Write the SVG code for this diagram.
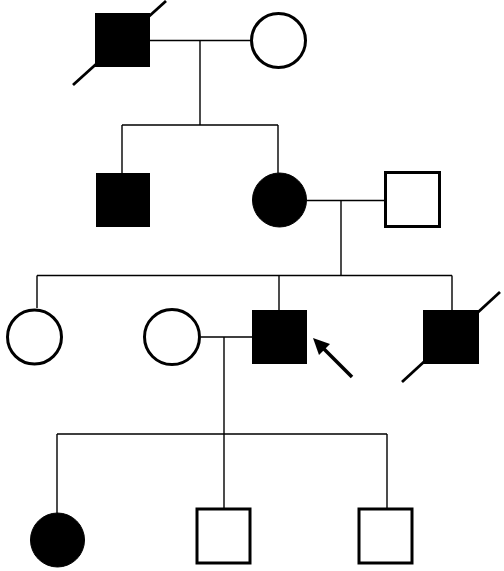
<svg xmlns="http://www.w3.org/2000/svg" width="504" height="571" viewBox="0 0 504 571">
<style>
.c{stroke:#000;stroke-width:1.4;fill:none}
.open{fill:#fff;stroke:#000;stroke-width:3}
.aff{fill:#000;stroke:#000;stroke-width:1}
.dec{stroke:#000;stroke-width:2.8;fill:none}
</style>
<defs>
<marker id="ah" markerWidth="10" markerHeight="10" refX="9" refY="5" orient="auto" markerUnits="userSpaceOnUse" viewBox="0 0 10 10">
<path d="M0,0 L10,5 L0,10 z" fill="#000"/>
</marker>
</defs>
<rect width="504" height="571" fill="#fff"/>
<g id="connectors">
<path class="c" d="M150,40.5 H250 M200,40.5 V125 M122,125 H278 M122,125 V173 M278,125 V173"/>
<path class="c" d="M307,200.5 H384 M341,200.5 V275.5 M37,275.5 H452 M37,275.5 V308 M279,275.5 V310 M452,275.5 V310"/>
<path class="c" d="M201,337 H252 M224,337 V434 M57,434 H387 M57,434 V513 M224,434 V508 M387,434 V508"/>
</g>
<g id="I1"><rect class="aff" x="95.5" y="13.5" width="54" height="53"/><line class="dec" x1="73" y1="85" x2="166" y2="1"/></g>
<g id="I2"><circle class="open" cx="278.5" cy="40.5" r="27"/></g>
<g id="II1"><rect class="aff" x="96.5" y="173.5" width="53" height="53"/></g>
<g id="II2"><circle class="aff" cx="279.5" cy="200" r="27"/></g>
<g id="II3"><rect class="open" x="385.5" y="172.5" width="54" height="54"/></g>
<g id="III1"><circle class="open" cx="34.5" cy="337" r="27"/></g>
<g id="III2"><circle class="open" cx="172" cy="337" r="27.5"/></g>
<g id="III3"><rect class="aff" x="252.5" y="310.5" width="54" height="53"/></g>
<g id="proband"><line x1="352" y1="377" x2="318" y2="343" stroke="#000" stroke-width="3.5"/><path d="M313,338 L330,344 L319,355 z" fill="#000"/></g>
<g id="III4"><rect class="aff" x="423.5" y="310.5" width="55" height="53"/><line class="dec" x1="402" y1="382" x2="500" y2="292"/></g>
<g id="IV1"><circle class="aff" cx="57.5" cy="540" r="27"/></g>
<g id="IV2"><rect class="open" x="197" y="509" width="53" height="54"/></g>
<g id="IV3"><rect class="open" x="359" y="509" width="53" height="54"/></g>
</svg>
